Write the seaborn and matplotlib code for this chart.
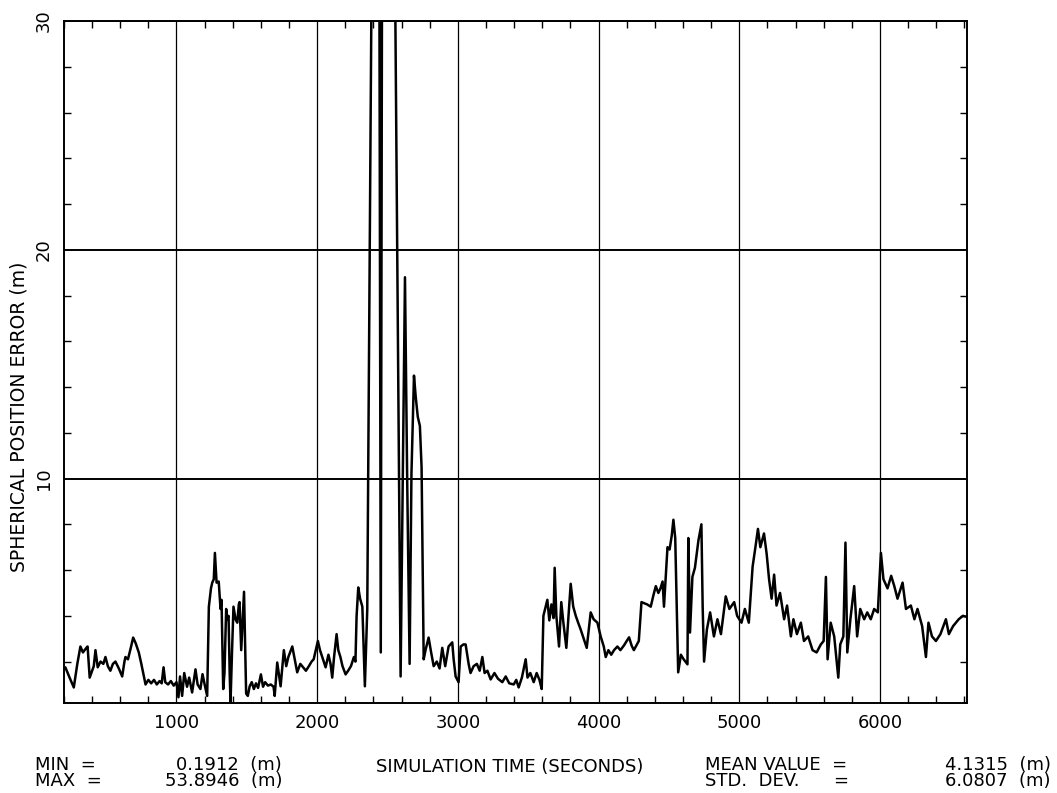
import numpy as np
import pandas as pd
import seaborn as sns
import matplotlib
matplotlib.use("Agg")
import matplotlib.pyplot as plt
from matplotlib.ticker import MultipleLocator, FixedLocator

# simulation time (s) and spherical position error (m)
sim_time = [
    210, 240, 270, 295, 317, 335, 353, 368, 383, 400, 412, 424, 440, 460, 480, 495,
    512, 530, 548, 566, 590, 614, 630, 637, 655, 675, 692, 710, 732, 750, 768, 780,
    800, 820, 840, 860, 880, 895, 908, 920, 940, 960, 980, 1000, 1014, 1025, 1040,
    1055, 1075, 1090, 1111, 1135, 1150, 1170, 1185, 1200, 1218, 1230, 1245, 1254,
    1265, 1273, 1285, 1300, 1313, 1320, 1332, 1341, 1353, 1360, 1370, 1378, 1384,
    1395, 1405, 1420, 1432, 1443, 1448, 1460, 1480, 1495, 1507, 1520, 1535, 1550,
    1565, 1580, 1600, 1615, 1630, 1650, 1670, 1690, 1698, 1716, 1740, 1763, 1780,
    1795, 1823, 1840, 1858, 1880, 1900, 1920, 1941, 1960, 1975, 2005, 2020, 2036,
    2060, 2080, 2095, 2107, 2120, 2138, 2150, 2165, 2180, 2202, 2220, 2240, 2261,
    2272, 2280, 2292, 2305, 2321, 2339, 2356, 2398, 2410, 2425, 2440, 2452, 2462,
    2490, 2520, 2552, 2593, 2624, 2640, 2657, 2670, 2688, 2700, 2715, 2730, 2742,
    2757, 2770, 2792, 2810, 2828, 2850, 2870, 2889, 2910, 2934, 2960, 2970, 2984,
    3005, 3020, 3040, 3055, 3077, 3090, 3112, 3135, 3155, 3174, 3190, 3210, 3233,
    3260, 3285, 3316, 3340, 3365, 3397, 3415, 3432, 3455, 3482, 3495, 3515, 3539,
    3560, 3580, 3596, 3608, 3636, 3650, 3665, 3680, 3688, 3700, 3719, 3735, 3750,
    3771, 3802, 3820, 3838, 3855, 3873, 3900, 3916, 3944, 3965, 3992, 4015, 4037,
    4051, 4070, 4090, 4110, 4134, 4155, 4180, 4200, 4217, 4235, 4251, 4286, 4305,
    4325, 4345, 4371, 4390, 4407, 4425, 4440, 4455, 4465, 4490, 4505, 4520, 4532,
    4545, 4566, 4585, 4605, 4632, 4638, 4650, 4667, 4685, 4710, 4731, 4740, 4750,
    4770, 4793, 4820, 4845, 4870, 4904, 4930, 4964, 4985, 5016, 5040, 5068, 5095,
    5115, 5133, 5150, 5176, 5195, 5212, 5230, 5248, 5265, 5290, 5319, 5340, 5367,
    5385, 5410, 5438, 5460, 5490, 5521, 5550, 5580, 5600, 5616, 5628, 5650, 5675,
    5704, 5718, 5740, 5755, 5768, 5790, 5817, 5838, 5860, 5888, 5910, 5935, 5959,
    5985, 6007, 6025, 6054, 6080, 6102, 6125, 6161, 6185, 6220, 6245, 6267, 6300,
    6327, 6345, 6370, 6398, 6430, 6469, 6490, 6520, 6560, 6590, 6620,
]
pos_error = [
    1.75, 1.3, 0.87, 1.9, 2.66, 2.4, 2.55, 2.66, 1.3, 1.6, 1.8, 2.5, 1.75, 2.0, 1.9, 2.2,
    1.8, 1.6, 1.9, 2.0, 1.7, 1.35, 2.0, 2.2, 2.1, 2.6, 3.05, 2.8, 2.4, 1.9, 1.35, 1.0,
    1.2, 1.05, 1.2, 1.0, 1.15, 1.05, 1.75, 1.1, 1.0, 1.15, 0.95, 1.1, 0.44, 1.35, 0.5,
    1.5, 0.9, 1.3, 0.65, 1.66, 1.0, 0.8, 1.45, 1.0, 0.5, 4.4, 5.2, 5.45,
    5.6, 6.75, 5.45, 5.5, 4.3, 4.7, 0.8, 1.5, 4.3, 3.85, 4.0, 1.5, 0.2,
    2.5, 4.4, 3.84, 3.7, 4.5, 4.6, 2.5, 5.05, 0.6, 0.5, 0.92, 1.1, 0.8,
    1.05, 0.85, 1.44, 0.9, 1.1, 0.95, 1.0, 0.9, 0.5, 1.96, 0.92, 2.5, 1.8,
    2.2, 2.66, 2.1, 1.53, 1.9, 1.75, 1.6, 1.8, 2.0, 2.1, 2.9, 2.5, 2.2,
    1.75, 2.3, 1.9, 1.3, 2.2, 3.2, 2.5, 2.2, 1.8, 1.44, 1.6, 1.8, 2.2,
    2.0, 3.97, 5.24, 4.75, 4.4, 0.92, 4.3, 42.0, 53.89, 47.0, 38.0, 2.4, 36.0,
    44.0, 40.0, 33.0, 1.35, 18.8, 9.8, 1.9, 10.2, 14.5, 13.6, 12.7, 12.3, 10.5,
    2.1, 2.5, 3.05, 2.4, 1.8, 2.0, 1.7, 2.6, 1.8, 2.66, 2.84, 2.1, 1.35,
    1.1, 2.66, 2.75, 2.75, 1.88, 1.5, 1.8, 1.9, 1.6, 2.2, 1.5, 1.6, 1.22,
    1.5, 1.25, 1.1, 1.35, 1.05, 1.0, 1.2, 0.87, 1.3, 2.1, 1.3, 1.5, 1.1,
    1.5, 1.2, 0.8, 4.0, 4.7, 3.8, 4.5, 3.9, 6.1, 4.0, 2.66, 4.6, 3.7,
    2.6, 5.4, 4.4, 4.0, 3.7, 3.4, 2.9, 2.6, 4.15, 3.85, 3.7, 3.1, 2.66,
    2.2, 2.5, 2.3, 2.5, 2.66, 2.5, 2.7, 2.9, 3.06, 2.7, 2.5, 2.9, 4.6,
    4.55, 4.5, 4.4, 4.9, 5.3, 5.0, 5.2, 5.5, 4.4, 7.0, 6.9, 7.5, 8.2,
    7.4, 1.53, 2.3, 2.1, 1.88, 7.4, 3.27, 5.7, 6.1, 7.3, 8.0, 4.4, 2.0,
    3.4, 4.15, 3.1, 3.85, 3.2, 4.85, 4.3, 4.6, 4.0, 3.7, 4.3, 3.7, 6.15,
    7.0, 7.8, 7.0, 7.6, 6.7, 5.6, 4.75, 5.8, 4.45, 5.0, 3.85, 4.45, 3.1,
    3.85, 3.2, 3.7, 2.9, 3.1, 2.5, 2.4, 2.75, 2.9, 5.7, 2.1, 3.7, 3.1,
    1.3, 2.75, 3.1, 7.2, 2.4, 3.85, 5.3, 3.1, 4.3, 3.85, 4.15, 3.85, 4.3,
    4.15, 6.75, 5.6, 5.2, 5.75, 5.3, 4.75, 5.45, 4.3, 4.45, 3.85, 4.3, 3.55,
    2.2, 3.7, 3.1, 2.9, 3.2, 3.85, 3.2, 3.55, 3.85, 4.0, 3.95,
]

x_ticks = [1000, 2000, 3000, 4000, 5000, 6000]
y_ticks = [10, 20, 30]

stats_left = ["MIN  =", "MAX  ="]
stats_left_vals = ["0.1912  (m)", "53.8946  (m)"]
stats_right = ["MEAN VALUE  =", "STD.  DEV.      ="]
stats_right_vals = ["4.1315  (m)", "6.0807  (m)"]

df = pd.DataFrame({"time": sim_time, "error": pos_error})

sns.set_style("ticks")
plt.rcParams["font.family"] = ["DejaVu Sans"]
plt.rcParams["text.color"] = "black"
plt.rcParams["axes.labelcolor"] = "black"
plt.rcParams["xtick.color"] = "black"
plt.rcParams["ytick.color"] = "black"

fig = plt.figure(figsize=(10.57, 7.93), dpi=100)
ax = fig.add_axes([0.0605, 0.1135, 0.8545, 0.86])

sns.lineplot(data=df, x="time", y="error", ax=ax, color="black",
             linewidth=1.8, estimator=None, sort=False)

ax.set_xlim(200, 6620)
ax.set_ylim(0.19, 30)

ax.xaxis.set_major_locator(FixedLocator(x_ticks))
ax.yaxis.set_major_locator(FixedLocator(y_ticks))
ax.xaxis.set_minor_locator(MultipleLocator(200))
ax.yaxis.set_minor_locator(MultipleLocator(2))

ax.grid(True, which="major", axis="x", color="black", linewidth=0.9)
ax.grid(True, which="major", axis="y", color="black", linewidth=1.4)

ax.tick_params(which="both", direction="in", top=True, right=True,
               colors="black", labelcolor="black")
ax.tick_params(which="major", length=0, labelsize=13, pad=8)
ax.tick_params(which="minor", length=5, width=1)
for lab in ax.get_yticklabels():
    lab.set_rotation(90)
    lab.set_va("center")

for side in ["left", "right", "top", "bottom"]:
    ax.spines[side].set_color("black")
    ax.spines[side].set_linewidth(1.4)

ax.set_xlabel("")
ax.set_ylabel("SPHERICAL POSITION ERROR (m)", fontsize=13.5, color="black")
ax.yaxis.set_label_coords(-0.039, 0.42)

# statistics block under the x axis
fs = 13
fig.text(0.033, 0.025, stats_left[0] + "\n" + stats_left[1], fontsize=fs,
         linespacing=0.9, va="center", ha="left")
fig.text(0.267, 0.025, stats_left_vals[0] + "\n" + stats_left_vals[1], fontsize=fs,
         linespacing=0.9, va="center", ha="right")
fig.text(0.482, 0.033, "SIMULATION TIME (SECONDS)", fontsize=fs,
         va="center", ha="center")
fig.text(0.667, 0.025, stats_right[0] + "\n" + stats_right[1], fontsize=fs,
         linespacing=0.9, va="center", ha="left")
fig.text(0.994, 0.025, stats_right_vals[0] + "\n" + stats_right_vals[1], fontsize=fs,
         linespacing=0.9, va="center", ha="right")

plt.savefig("out.png", dpi=100)
